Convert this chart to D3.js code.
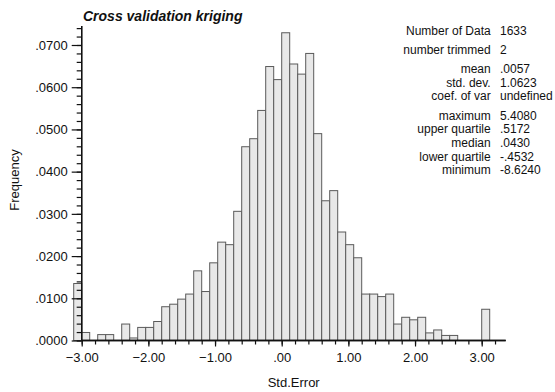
<!DOCTYPE html>
<html>
<head>
<meta charset="utf-8">
<script src="https://cdn.jsdelivr.net/npm/d3@7"></script>
<style>
  html, body { margin: 0; padding: 0; background: #fff; }
  svg { display: block; font-family: "Liberation Sans", Arial, Helvetica, sans-serif; }
</style>
</head>
<body>
<svg id="chart" width="555" height="392"></svg>
<script>
// Histogram of standardized cross-validation errors (bins of 0.12 starting at -3.12)
const binStart = -3.12;
const binWidth = 0.12;
const frequencies = [
  0.0135, 0.0019, 0.0000, 0.0014, 0.0014, 0.0000, 0.0039, 0.0006, 0.0031, 0.0031,
  0.0045, 0.0080, 0.0086, 0.0098, 0.0110, 0.0165, 0.0116, 0.0184, 0.0233, 0.0227,
  0.0306, 0.0459, 0.0478, 0.0545, 0.0649, 0.0618, 0.0729, 0.0655, 0.0631, 0.0680,
  0.0490, 0.0331, 0.0355, 0.0257, 0.0227, 0.0196, 0.0110, 0.0110, 0.0104, 0.0110,
  0.0039, 0.0055, 0.0049, 0.0055, 0.0018, 0.0025, 0.0012, 0.0012, 0.0000, 0.0000,
  0.0000, 0.0074
];

const xMajorTicks = [-3, -2, -1, 0, 1, 2, 3];
const yMajorTicks = [0, 0.01, 0.02, 0.03, 0.04, 0.05, 0.06, 0.07];

const statLabels = ["Number of Data", "number trimmed", "mean", "std. dev.", "coef. of var",
                    "maximum", "upper quartile", "median", "lower quartile", "minimum"];
const statValues = ["1633", "2", ".0057", "1.0623", "undefined",
                    "5.4080", ".5172", ".0430", "-.4532", "-8.6240"];
const statGroup = [0, 1, 2, 2, 2, 3, 3, 3, 3, 3];

const titleText = "Cross validation kriging";
const xTitle = "Std.Error";
const yTitle = "Frequency";

const svg = d3.select("#chart");

const x = d3.scaleLinear().domain([-3.0, 3.36]).range([81.7, 505.7]);
const y = d3.scaleLinear().domain([0, 0.0745]).range([340.5, 26]);

const stripZero = s => s.replace(/^(-?)0\./, "$1.");

// bars
const bins = frequencies.map((f, i) => ({ x0: binStart + i * binWidth, x1: binStart + (i + 1) * binWidth, f }));
svg.append("g")
  .selectAll("rect")
  .data(bins.filter(d => d.f > 0))
  .join("rect")
  .attr("x", d => x(d.x0))
  .attr("width", d => x(d.x1) - x(d.x0))
  .attr("y", d => y(d.f))
  .attr("height", d => y(0) - y(d.f))
  .attr("fill", "#e8e8e8")
  .attr("stroke", "#5a5a5a")
  .attr("stroke-width", 1);

// x axis: minor ticks every 0.2, labelled majors every 1
const xMinor = d3.range(-3, 3.21, 0.2).map(v => Math.round(v * 10) / 10);
const gxMinor = svg.append("g").attr("transform", `translate(0,${y(0)})`)
  .call(d3.axisBottom(x).tickValues(xMinor).tickSize(4).tickFormat(""));
const gx = svg.append("g").attr("transform", `translate(0,${y(0)})`)
  .call(d3.axisBottom(x).tickValues(xMajorTicks).tickSize(6).tickPadding(6)
        .tickFormat(d => stripZero(d3.format(".2f")(d))));

// y axis: minor ticks every 0.002, labelled majors every 0.01
const yMinor = d3.range(0, 0.0741, 0.002).map(v => Math.round(v * 1000) / 1000);
const gyMinor = svg.append("g").attr("transform", `translate(${x(-3)},0)`)
  .call(d3.axisLeft(y).tickValues(yMinor).tickSize(5).tickFormat(""));
const gy = svg.append("g").attr("transform", `translate(${x(-3)},0)`)
  .call(d3.axisLeft(y).tickValues(yMajorTicks).tickSize(10).tickPadding(4)
        .tickFormat(d => stripZero(d3.format(".4f")(d))));

[gxMinor, gx, gyMinor, gy].forEach(g => {
  g.selectAll(".domain").attr("stroke", "#111").attr("stroke-width", 1.3);
  g.selectAll(".tick line").attr("stroke", "#111").attr("stroke-width", 1.2);
  g.selectAll("text").attr("font-size", 13).attr("fill", "#111")
    .attr("font-family", '"Liberation Sans", Arial, sans-serif');
});
gx.selectAll(".domain").attr("d", `M${x(-3)},0H${x(3.36)}`);
gxMinor.selectAll(".domain").attr("d", `M${x(-3)},0H${x(3.36)}`);
gy.selectAll(".domain").attr("d", `M0,${y(0)}V${y(0.0745)}`);
gyMinor.selectAll(".domain").attr("d", `M0,${y(0)}V${y(0.0745)}`);

// title
svg.append("text")
  .attr("x", 83).attr("y", 21)
  .attr("font-size", 14).attr("font-weight", "bold").attr("font-style", "italic")
  .attr("fill", "#111")
  .text(titleText);

// axis titles
svg.append("text")
  .attr("x", (x(-3) + x(3.36)) / 2).attr("y", 386.5)
  .attr("text-anchor", "middle").attr("font-size", 13).attr("fill", "#111")
  .text(xTitle);
svg.append("text")
  .attr("transform", `translate(18.5,180) rotate(-90)`)
  .attr("text-anchor", "middle").attr("font-size", 13).attr("fill", "#111")
  .text(yTitle);

// summary statistics block: rows of 13.7px, extra space between groups
const statY = (i) => 34.5 + i * 13.7 + statGroup[i] * 5.5;
const stats = svg.append("g").attr("font-size", 12).attr("fill", "#111");
stats.selectAll("text.lab")
  .data(statLabels)
  .join("text")
  .attr("class", "lab")
  .attr("x", 490.7).attr("y", (d, i) => statY(i))
  .attr("text-anchor", "end")
  .text(d => d);
stats.selectAll("text.val")
  .data(statValues)
  .join("text")
  .attr("class", "val")
  .attr("x", 500).attr("y", (d, i) => statY(i))
  .text(d => d);
</script>
</body>
</html>
